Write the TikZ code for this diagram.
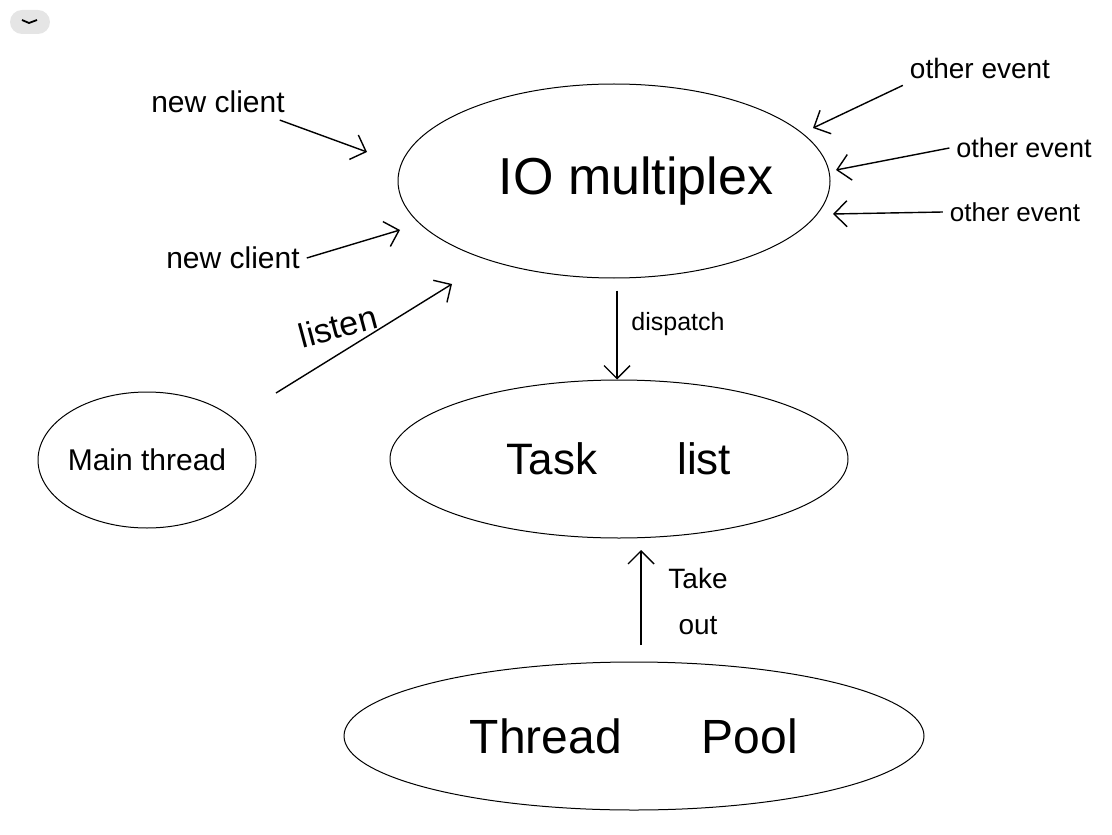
\documentclass[tikz,border=0pt]{standalone}
\usepackage{fontspec}
\setmainfont{Liberation Sans}
\usetikzlibrary{arrows.meta,positioning,shapes.geometric}

\begin{document}
\begin{tikzpicture}[x=0.5pt,y=-0.5pt,
  bubble/.style={draw, ellipse, line width=0.5pt, inner sep=0pt},
  flow/.style={-{Straight Barb[length=6.5pt,width=13pt]}, line width=0.7pt},
  note/.style={font=\fontsize{15}{18}\selectfont}]
\useasboundingbox (0,0) rectangle (1112,834);

% Menu button
\draw[fill=gray!20, draw=none, rounded corners=6pt] (10,10) rectangle (50,34);
\draw[line width=0.9pt] (22,20) -- (29,23) -- (37,20);

% Draw ellipses
\node[bubble, minimum width=216pt, minimum height=97pt] (mux) at (614,181) {};
\node[font=\fontsize{26}{30}\selectfont] (muxtext) at ([xshift=11pt]mux.center) {IO multiplex};
\node[bubble, minimum width=229pt, minimum height=79pt,
  font=\fontsize{22}{26}\selectfont] (task) at (619,459) {Task\hspace{40pt}list};
\node[bubble, minimum width=290pt, minimum height=74pt,
  font=\fontsize{24}{28}\selectfont] (pool) at (634,736) {Thread\hspace{40pt}Pool};
\node[bubble, minimum width=109pt, minimum height=68pt] (main) at (147,460) {};
\node[note] (maintext) at (main.center) {Main thread};

% New clients
\node[note] (nca) at (218,102) {new client};
\coordinate (ncaend) at (367,152);
\draw[flow] ([xshift=-6pt]nca.south east) -- (ncaend);

\node[note] (ncb) at (233,258) {new client};
\coordinate (ncbend) at (400,230);
\draw[flow] (ncb.east) -- (ncbend);

% Listen
\node[note, rotate=15, font=\fontsize{17}{20}\selectfont] (lsn) at (338,326) {listen};
\coordinate (lsnstart) at (276,393);
\coordinate (lsnend) at (452,284);
\draw[flow] (lsnstart) -- (lsnend);

% Other events
\node[note, font=\fontsize{14}{17}\selectfont] (oea) at (980,68) {other event};
\coordinate (oeaend) at (813,128);
\draw[flow] (oea.south west) -- (oeaend);

\node[note, font=\fontsize{13.5}{16}\selectfont] (oeb) at (1024,148) {other event};
\coordinate (oebend) at (836,170);
\draw[flow] (oeb.west) -- (oebend);

\node[note, font=\fontsize{13}{16}\selectfont] (oec) at (1015,212) {other event};
\coordinate (oecend) at (833,214);
\draw[flow] (oec.west) -- (oecend);

% Dispatch and take out
\draw[flow] ([xshift=1.5pt, yshift=-6pt]mux.south) -- ([xshift=-1pt]task.north);
\node[note, font=\fontsize{12.5}{15}\selectfont] (dsp) at (678,324) {dispatch};

\coordinate (tkstart) at (641,645);
\coordinate (tkend) at (641,550);
\draw[flow] (tkstart) -- (tkend);
\node[note, align=center, font=\fontsize{14}{23}\selectfont] (tko) at (698,601) {Take\\out};
\end{tikzpicture}
\end{document}
